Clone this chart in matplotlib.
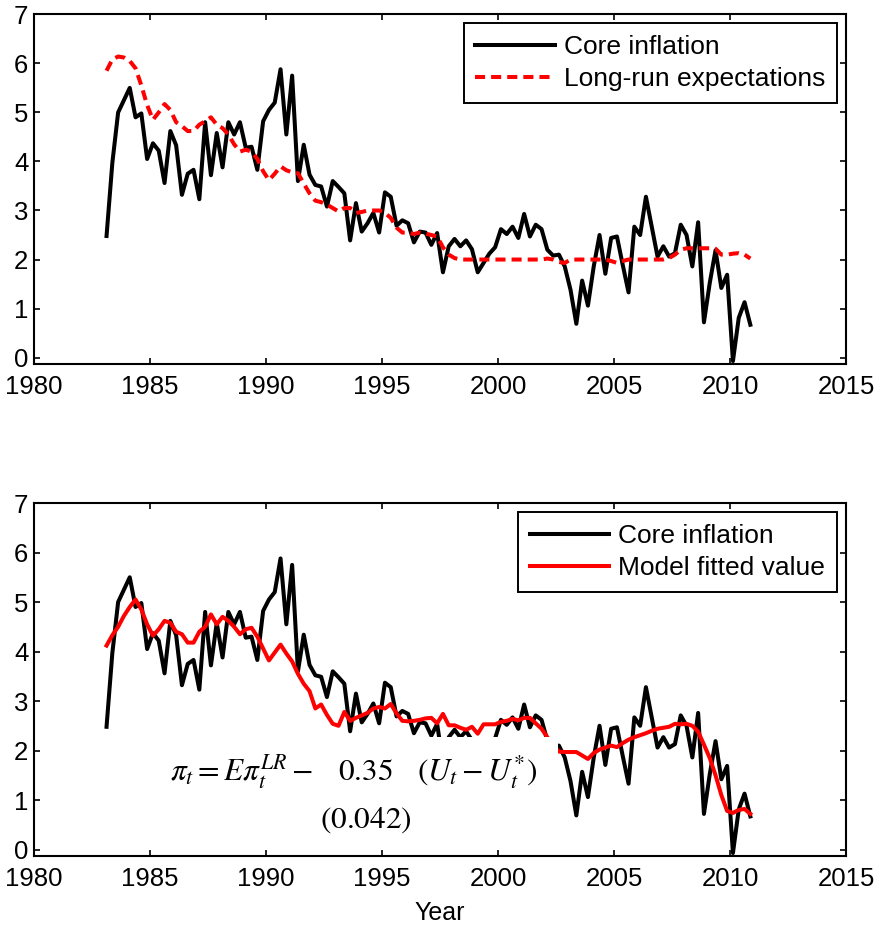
import numpy as np
import matplotlib
matplotlib.use("Agg")
import matplotlib.pyplot as plt
from matplotlib.patches import Rectangle

plt.rcParams['font.family'] = ['Liberation Sans', 'DejaVu Sans']
plt.rcParams['mathtext.fontset'] = 'stix'

# quarterly dates, 1983Q1 .. 2010Q4 (plotted at mid-quarter)
quarters = np.arange(1983.125, 2011.0, 0.25)

core = [2.48, 3.97, 5.00, 5.25, 5.50, 4.90, 4.98, 4.05,
        4.37, 4.22, 3.56, 4.62, 4.33, 3.32, 3.75, 3.83,
        3.23, 4.80, 3.72, 4.58, 3.88, 4.80, 4.55, 4.80,
        4.28, 4.30, 3.83, 4.82, 5.05, 5.20, 5.88, 4.55,
        5.75, 3.60, 4.34, 3.73, 3.52, 3.49, 3.08, 3.60,
        3.48, 3.35, 2.39, 3.15, 2.57, 2.74, 2.95, 2.55,
        3.37, 3.28, 2.69, 2.80, 2.74, 2.35, 2.57, 2.55,
        2.30, 2.54, 1.74, 2.27, 2.42, 2.27, 2.39, 2.21,
        1.74, 1.93, 2.12, 2.25, 2.62, 2.52, 2.67, 2.44,
        2.93, 2.47, 2.71, 2.62, 2.20, 2.08, 2.10, 1.86,
        1.38, 0.69, 1.57, 1.06, 1.86, 2.50, 1.71, 2.44,
        2.47, 1.89, 1.33, 2.67, 2.50, 3.28, 2.67, 2.06,
        2.27, 2.06, 2.13, 2.71, 2.50, 1.86, 2.76, 0.72,
        1.52, 2.19, 1.42, 1.69, -0.07, 0.81, 1.13, 0.67]

expectations = [5.85, 6.08, 6.14, 6.12, 6.05, 5.90, 5.55, 5.15,
                4.85, 5.00, 5.17, 5.05, 4.80, 4.72, 4.62, 4.62,
                4.75, 4.82, 4.90, 4.75, 4.68, 4.55, 4.35, 4.20,
                4.24, 4.20, 4.05, 3.80, 3.62, 3.75, 3.90, 3.82,
                3.78, 3.76, 3.55, 3.35, 3.20, 3.17, 3.12, 3.05,
                2.98, 3.05, 3.05, 2.95, 2.97, 3.00, 3.00, 3.00,
                2.95, 2.85, 2.65, 2.55, 2.55, 2.52, 2.55, 2.53,
                2.50, 2.47, 2.25, 2.10, 2.03, 2.00, 2.00, 2.00,
                2.00, 2.00, 2.00, 2.00, 2.00, 2.00, 2.00, 2.00,
                2.00, 2.00, 2.00, 2.00, 2.02, 2.00, 1.95, 1.93,
                2.00, 2.00, 2.00, 2.00, 2.00, 2.00, 2.00, 1.97,
                1.93, 1.97, 2.00, 2.00, 2.00, 2.00, 2.00, 2.00,
                2.00, 2.03, 2.10, 2.20, 2.23, 2.23, 2.23, 2.23,
                2.23, 2.22, 2.10, 2.10, 2.12, 2.13, 2.10, 2.02]

fitted = [4.12, 4.33, 4.50, 4.72, 4.90, 5.05, 4.85, 4.55,
          4.32, 4.45, 4.62, 4.58, 4.40, 4.35, 4.18, 4.18,
          4.40, 4.50, 4.75, 4.55, 4.70, 4.62, 4.50, 4.35,
          4.45, 4.48, 4.30, 4.06, 3.82, 3.98, 4.14, 3.96,
          3.80, 3.55, 3.35, 3.20, 2.85, 2.93, 2.72, 2.54,
          2.50, 2.78, 2.60, 2.66, 2.71, 2.76, 2.85, 2.88,
          2.85, 2.94, 2.75, 2.60, 2.59, 2.60, 2.62, 2.65,
          2.66, 2.55, 2.74, 2.51, 2.51, 2.46, 2.42, 2.48,
          2.34, 2.53, 2.53, 2.53, 2.58, 2.60, 2.64, 2.61,
          2.66, 2.66, 2.55, 2.44, 2.27, 2.10, 1.98, 1.97,
          1.97, 1.97, 1.90, 1.83, 1.95, 2.02, 2.06, 2.10,
          2.07, 2.15, 2.22, 2.27, 2.31, 2.35, 2.40, 2.44,
          2.46, 2.48, 2.54, 2.53, 2.54, 2.50, 2.38, 2.12,
          1.85, 1.50, 1.10, 0.78, 0.74, 0.80, 0.82, 0.72]

xticks = [1980, 1985, 1990, 1995, 2000, 2005, 2010, 2015]
yticks = [0, 1, 2, 3, 4, 5, 6, 7]

fig = plt.figure(figsize=(8.75, 9.25), dpi=100)
ax1 = fig.add_axes([0.0389, 0.6065, 0.928, 0.378])
ax2 = fig.add_axes([0.0389, 0.0746, 0.928, 0.3816])

lw = 2.9
ax1.plot(quarters, core, color='black', lw=lw, label='Core inflation')
ax1.plot(quarters, expectations, color='red', lw=lw, dashes=(2.5, 1.5),
         label='Long-run expectations')

ax2.plot(quarters, core, color='black', lw=lw, label='Core inflation')
ax2.plot(quarters, fitted, color='red', lw=lw, label='Model fitted value')

for ax in (ax1, ax2):
    ax.set_xlim(1980, 2015)
    ax.set_ylim(-0.13, 7)
    ax.set_xticks(xticks)
    ax.set_yticks(yticks)
    ax.tick_params(direction='in', top=True, right=True, length=4.5,
                   width=1.2, labelsize=18.5)
    ax.tick_params(axis='x', pad=8)
    ax.tick_params(axis='y', pad=4)
    for s in ax.spines.values():
        s.set_linewidth(1.5)
    leg = ax.legend(loc='upper right', fontsize=19, fancybox=False,
                    framealpha=1, edgecolor='black', borderaxespad=0.34,
                    handlelength=3.0, handletextpad=0.35, borderpad=0.45,
                    labelspacing=0.3)
    leg.get_frame().set_linewidth(1.4)

# white panel behind the equation (covers the lines)
ax2.add_patch(Rectangle((1985.0, 0.25), 17.6, 2.02, facecolor='white',
                        edgecolor='none', zorder=3))
eq_kw = dict(fontsize=22.5, zorder=4, ha='left', va='baseline')
ax2.text(1985.87, 1.40, r'$\pi_t = E\pi_t^{LR} -$', **eq_kw)
ax2.text(1993.1, 1.40, r'$0.35$', **eq_kw)
ax2.text(1996.5, 1.40, r'$(U_t - U_t^{*})$', **eq_kw)
ax2.text(1992.34, 0.445, r'$(0.042)$', **eq_kw)

ax2.set_xlabel('Year', fontsize=18, labelpad=7)

fig.savefig('out.png', dpi=100)
